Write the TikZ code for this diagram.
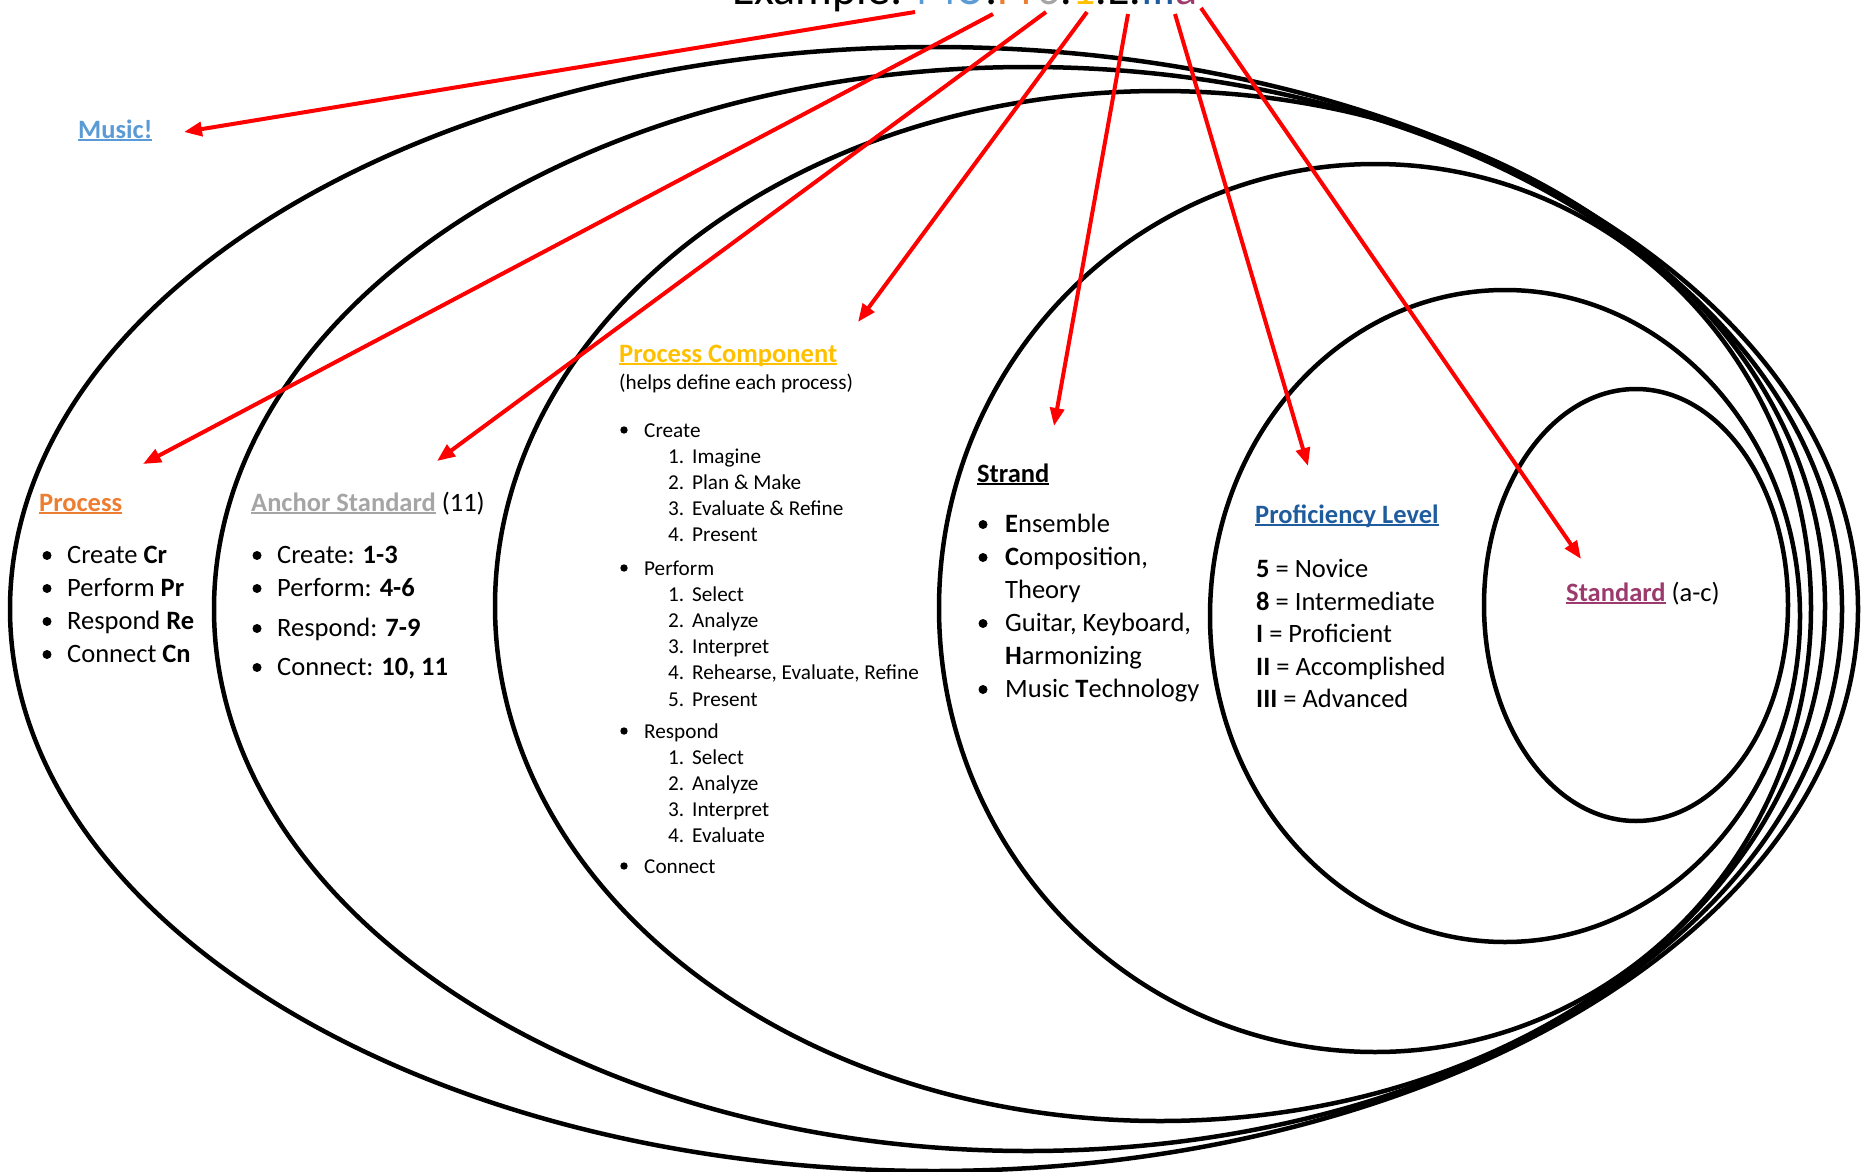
\documentclass[tikz,border=0pt]{standalone}
\usepackage{fontspec}
\setmainfont{Carlito}
\usetikzlibrary{arrows.meta}

\definecolor{musicblue}{HTML}{5B9BD5}
\definecolor{procorange}{HTML}{ED7D31}
\definecolor{anchorgray}{HTML}{A5A5A5}
\definecolor{compyellow}{HTML}{FFC000}
\definecolor{levelblue}{HTML}{1F5C9E}
\definecolor{stdpurple}{HTML}{9C3A6D}

\newcommand{\hdline}[1]{\setbox0\hbox{#1}\rlap{\rule[-3.2pt]{\wd0}{1.8pt}}\box0}

\begin{document}
\begin{tikzpicture}[x=1pt,y=-1pt,
    ring/.style={draw=black, line width=4.5pt},
    arr/.style={draw=red, line width=4pt, -{Triangle[length=18pt,width=14pt]}},
    ttl/.style={anchor=base west, inner sep=0pt, font=\fontsize{46}{56}\selectfont},
    hd/.style={anchor=base west, inner sep=0pt, font=\fontsize{26.5}{32}\selectfont\bfseries},
    txt/.style={anchor=base west, inner sep=0pt, font=\fontsize{26.5}{32}\selectfont},
    sm/.style={anchor=base west, inner sep=0pt, font=\fontsize{21.2}{26}\selectfont}]
\useasboundingbox (0,0) rectangle (1864,1172);

% nested rings, outer to inner
\draw[ring] (934,609) ellipse [x radius=924, y radius=562];
\draw[ring] (1028,609) ellipse [x radius=814, y radius=542];
\draw[ring] (1160,606) ellipse [x radius=665, y radius=515];
\draw[ring] (1375,608) ellipse [x radius=436, y radius=444];
\draw[ring] (1505,616) ellipse [x radius=295, y radius=326];
\draw[ring] (1636,605) ellipse [x radius=152, y radius=216];

% title, cut by the top edge
\node[ttl] (title) at (732,5) {Example: \textcolor{musicblue}{MU}:\textcolor{procorange}{Pr}\textcolor{anchorgray}{6}.\textcolor{compyellow}{1}.E.\textcolor{levelblue}{III}\textcolor{stdpurple}{a}};

% headings
\node[hd, text=musicblue] (music) at (78,138) {\hdline{Music!}};
\node[hd, text=procorange] (process) at (39,511) {\hdline{Process}};
\node[hd] (anchor) at (251,511) {\textcolor{anchorgray}{\hdline{Anchor Standard}} \mdseries(11)};
\node[hd, text=compyellow] (component) at (619,362) {\hdline{Process Component}};
\node[sm] (helps) at (619,389) {(helps define each process)};
\node[hd] (strand) at (977,482) {\hdline{Strand}};
\node[hd, text=levelblue] (level) at (1255,523) {\hdline{Proficiency Level}};
\node[hd] (standard) at (1566,601) {\textcolor{stdpurple}{\hdline{Standard}} \mdseries(a-c)};

% process
\foreach \t [count=\i] in {Create \textbf{Cr}, Perform \textbf{Pr}, Respond \textbf{Re}, Connect \textbf{Cn}}{
  \node[txt] (proc\i) at (67,{530+33*\i}) {\t};
  \fill (47,{522.5+33*\i}) circle (4.5);
}

% anchor standards
\foreach \y/\t [count=\i] in {563/{Create: \textbf{1-3}}, 596/{Perform: \textbf{4-6}}, 636/{Respond: \textbf{7-9}}, 675/{Connect: \textbf{10, 11}}}{
  \node[txt] (anc\i) at (277,\y) {\t};
  \fill (257,\y-7.5) circle (4.5);
}

% process components
\foreach \y/\t in {437/Create, 575/Perform, 738/Respond, 873/Connect}{
  \node[sm] (cmp-\t) at (644,\y) {\t};
  \fill (624,\y-7) circle (3.7);
}
\foreach \t [count=\i] in {Imagine, Plan \& Make, Evaluate \& Refine, Present}
  \node[sm] (cr\i) at (668,{437+26.2*\i}) {\makebox[24pt][l]{\i.}\t};
\foreach \t [count=\i] in {Select, Analyze, Interpret, {Rehearse, Evaluate, Refine}, Present}
  \node[sm] (pr\i) at (668,{575+26.2*\i}) {\makebox[24pt][l]{\i.}\t};
\foreach \t [count=\i] in {Select, Analyze, Interpret, Evaluate}
  \node[sm] (re\i) at (668,{738+26.2*\i}) {\makebox[24pt][l]{\i.}\t};

% strands
\foreach \y/\t [count=\i] in {532/{\textbf{E}nsemble}, 565/{\textbf{C}omposition,}, 598/Theory, 631/{Guitar, Keyboard,}, 664/{\textbf{H}armonizing}, 697/{Music \textbf{T}echnology}}
  \node[txt] (str\i) at (1005,\y) {\t};
\foreach \y in {532,565,631,697}
  \fill (983,\y-7.5) circle (4.5);

% proficiency levels
\foreach \t [count=\i] in {\textbf{5} = Novice, \textbf{8} = Intermediate, \textbf{I} = Proficient, \textbf{II} = Accomplished, \textbf{III} = Advanced}
  \node[txt] (lvl\i) at (1256,{545+32.5*\i}) {\t};

% red pointers from the code
\coordinate (from1) at (915,12);   \coordinate (to1) at (184,132);
\coordinate (from2) at (993,14);   \coordinate (to2) at (143,464);
\coordinate (from3) at (1046,12);  \coordinate (to3) at (437,461);
\coordinate (from4) at (1087,12);  \coordinate (to4) at (858,322);
\coordinate (from5) at (1128,14);  \coordinate (to5) at (1054,426);
\coordinate (from6) at (1175,14);  \coordinate (to6) at (1308,466);
\coordinate (from7) at (1201,8);   \coordinate (to7) at (1581,559);
\foreach \i in {1,...,7}
  \draw[arr] (from\i) -- (to\i);
\end{tikzpicture}
\end{document}
